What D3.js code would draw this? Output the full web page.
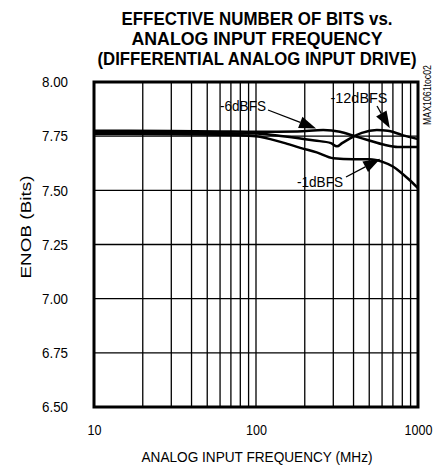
<!DOCTYPE html>
<html><head><meta charset="utf-8">
<script src="https://cdn.jsdelivr.net/npm/d3@7"></script>
<style>
html,body{margin:0;padding:0;background:#fff;}
svg{display:block;}
</style>
</head><body>
<svg id="chart" width="435" height="468"></svg>
<script>
const titleLines = ["EFFECTIVE NUMBER OF BITS vs.", "ANALOG INPUT FREQUENCY", "(DIFFERENTIAL ANALOG INPUT DRIVE)"];
const xLabel = "ANALOG INPUT FREQUENCY (MHz)";
const yLabel = "ENOB (Bits)";
const xTickValues = [10, 100, 1000];
const yTickValues = [6.5, 6.75, 7.0, 7.25, 7.5, 7.75, 8.0];
const freq_m1 = [10, 30, 60, 100, 147, 190, 237, 300, 400, 500, 610, 700, 777, 880, 1000];
const enob_m1 = [7.760, 7.759, 7.757, 7.750, 7.720, 7.695, 7.675, 7.648, 7.643, 7.643, 7.630, 7.610, 7.585, 7.550, 7.510];
const freq_m6 = [10, 30, 60, 100, 180, 260, 330, 400, 500, 620, 750, 1000];
const enob_m6 = [7.775, 7.774, 7.772, 7.770, 7.772, 7.778, 7.770, 7.752, 7.730, 7.710, 7.700, 7.700];
const freq_m12 = [10, 30, 60, 100, 147, 230, 290, 316, 340, 381, 450, 557, 650, 800, 1000];
const enob_m12 = [7.765, 7.765, 7.764, 7.762, 7.750, 7.730, 7.718, 7.703, 7.718, 7.740, 7.765, 7.778, 7.775, 7.755, 7.737];
const seriesNames = ["-1dBFS", "-6dBFS", "-12dBFS"];
const noteText = "MAX1061toc02";

const svg = d3.select("#chart");
const m = {left: 94, top: 82, right: 418, bottom: 407};
const x = d3.scaleLog().domain([10, 1000]).range([m.left, m.right]);
const y = d3.scaleLinear().domain([6.5, 8.0]).range([m.bottom, m.top]);
const FONT = "'Liberation Sans',Arial,sans-serif";

// title
const titleWidths = [271, 251, 319];
svg.append("g").selectAll("text").data(titleLines).join("text")
  .attr("x", 257).attr("y", (d,i) => 25 + i*20)
  .attr("text-anchor", "middle")
  .attr("font-family", FONT).attr("font-weight", "bold").attr("font-size", 18)
  .attr("textLength", (d,i) => titleWidths[i]).attr("lengthAdjust", "spacingAndGlyphs")
  .text(d => d);

// grid
const xGrid = [];
[10, 100].forEach(dec => { for (let k = 2; k <= 9; k++) xGrid.push(dec*k); });
xGrid.push(100);
svg.append("g").selectAll("line").data(xGrid).join("line")
  .attr("x1", d => x(d)).attr("x2", d => x(d))
  .attr("y1", m.top).attr("y2", m.bottom)
  .attr("stroke", "#000").attr("stroke-width", 1.3);
svg.append("g").selectAll("line").data(yTickValues.slice(1, -1)).join("line")
  .attr("x1", m.left).attr("x2", m.right)
  .attr("y1", d => y(d)).attr("y2", d => y(d))
  .attr("stroke", "#000").attr("stroke-width", 1.3);

// axes labels
const yAxis = d3.axisLeft(y).tickValues(yTickValues).tickFormat(d3.format(".2f")).tickSize(0).tickPadding(26);
svg.append("g").attr("transform", `translate(${m.left},0)`).call(yAxis)
  .call(g => g.select(".domain").remove())
  .selectAll("text").attr("font-family", FONT).attr("font-size", 15).attr("fill", "#000")
  .attr("textLength", 26).attr("lengthAdjust", "spacingAndGlyphs");
const xAxis = d3.axisBottom(x).tickValues(xTickValues).tickFormat(d3.format("d")).tickSize(0).tickPadding(17);
svg.append("g").attr("transform", `translate(0,${m.bottom})`).call(xAxis)
  .call(g => g.select(".domain").remove())
  .selectAll("text").attr("font-family", FONT).attr("font-size", 15).attr("fill", "#000")
  .attr("textLength", d => String(d).length * 7).attr("lengthAdjust", "spacingAndGlyphs");

svg.append("text").attr("x", 257).attr("y", 462).attr("text-anchor", "middle")
  .attr("font-family", FONT).attr("font-size", 15)
  .attr("textLength", 231).attr("lengthAdjust", "spacingAndGlyphs").text(xLabel);
svg.append("text").attr("transform", "translate(31,227) rotate(-90)").attr("text-anchor", "middle")
  .attr("font-family", FONT).attr("font-size", 15)
  .attr("textLength", 103).attr("lengthAdjust", "spacingAndGlyphs").text(yLabel);

// frame
svg.append("rect").attr("x", m.left).attr("y", m.top)
  .attr("width", m.right - m.left).attr("height", m.bottom - m.top)
  .attr("fill", "none").attr("stroke", "#000").attr("stroke-width", 3);

// curves
const line = d3.line().x(d => x(d[0])).y(d => y(d[1])).curve(d3.curveMonotoneX);
const series = [
  d3.zip(freq_m1, enob_m1),
  d3.zip(freq_m6, enob_m6),
  d3.zip(freq_m12, enob_m12)
];
svg.append("g").selectAll("path").data(series).join("path")
  .attr("d", line).attr("fill", "none").attr("stroke", "#000").attr("stroke-width", 2.5);

// annotations
const annos = [
  {text: seriesNames[1], tx: 243, ty: 111, tw: 46, from: [268, 110], to: [235, 7.776]},
  {text: seriesNames[2], tx: 359, ty: 103, tw: 57, from: [377, 106], to: [670, 7.777]},
  {text: seriesNames[0], tx: 320, ty: 187, tw: 46, from: [346, 177], to: [585, 7.636]}
];
annos.forEach(a => {
  svg.append("text").attr("x", a.tx).attr("y", a.ty).attr("text-anchor", "middle")
    .attr("font-family", FONT).attr("font-size", 15)
    .attr("textLength", a.tw).attr("lengthAdjust", "spacingAndGlyphs").text(a.text);
  const x0 = a.from[0], y0 = a.from[1];
  const x1 = x(a.to[0]), y1 = y(a.to[1]) - 2;
  const ang = Math.atan2(y1 - y0, x1 - x0);
  const L = 17, W = 6;
  const bx = x1 - L*Math.cos(ang), by = y1 - L*Math.sin(ang);
  svg.append("line").attr("x1", x0).attr("y1", y0).attr("x2", bx).attr("y2", by)
    .attr("stroke", "#000").attr("stroke-width", 1.3);
  const px = -Math.sin(ang)*W, py = Math.cos(ang)*W;
  svg.append("path").attr("d", `M${x1},${y1}L${bx+px},${by+py}L${bx-px},${by-py}Z`).attr("fill", "#000");
});

svg.append("text").attr("transform", "translate(431,95) rotate(-90)").attr("text-anchor", "middle")
  .attr("font-family", FONT).attr("font-size", 10)
  .attr("textLength", 60).attr("lengthAdjust", "spacingAndGlyphs").text(noteText);
</script>
</body></html>
